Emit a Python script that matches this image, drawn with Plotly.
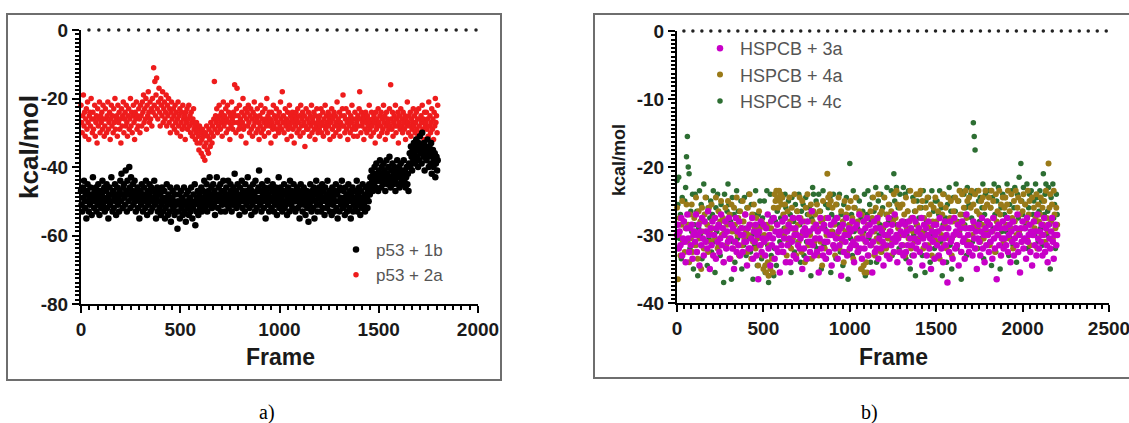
import plotly.graph_objects as go

W, H = 1129, 423

# ---------------- Panel a data (one value every 3 frames) ----------------
step_a = 3
p53_1b = [
-47,-51,-53,-46,-49,-44,-50,-52,-48,-55,-47,-45,-50,-53,-49,-51,-46,-48,-54,-50,
-43,-49,-52,-47,-50,-46,-53,-48,-51,-45,-49,-54,-47,-50,-52,-48,-44,-51,-49,-46,
-53,-50,-47,-45,-52,-49,-55,-48,-46,-51,-50,-43,-48,-53,-47,-52,-49,-45,-50,-54,
-48,-46,-51,-49,-53,-47,-44,-50,-42,-48,-52,-46,-45,-49,-51,-41,-47,-53,-44,-48,
-50,-40,-46,-52,-43,-49,-47,-45,-51,-48,-44,-50,-53,-47,-49,-46,-52,-48,-55,-50,
-47,-51,-45,-49,-53,-48,-46,-50,-52,-44,-49,-54,-47,-51,-48,-45,-50,-53,-46,-49,
-52,-47,-50,-44,-51,-48,-55,-49,-46,-53,-50,-47,-52,-48,-54,-51,-46,-49,-53,-50,
-47,-55,-52,-49,-45,-51,-54,-48,-50,-53,-46,-56,-51,-49,-47,-52,-50,-54,-48,-53,
-51,-46,-58,-50,-53,-48,-55,-51,-47,-52,-49,-54,-50,-46,-53,-51,-56,-48,-50,-52,
-47,-54,-51,-49,-53,-46,-50,-55,-52,-48,-51,-45,-57,-50,-53,-49,-47,-54,-51,-48,
-52,-50,-46,-53,-49,-47,-51,-44,-50,-52,-48,-45,-53,-49,-47,-51,-43,-50,-48,-46,
-52,-49,-45,-51,-47,-54,-48,-50,-43,-49,-52,-46,-50,-48,-45,-53,-47,-51,-49,-44,
-50,-47,-53,-48,-46,-51,-49,-44,-52,-48,-50,-45,-47,-53,-49,-51,-46,-48,-42,-50,
-47,-52,-49,-45,-51,-48,-54,-46,-50,-49,-44,-52,-47,-50,-48,-53,-45,-49,-51,-47,
-43,-50,-48,-52,-46,-49,-54,-47,-51,-45,-50,-48,-53,-44,-49,-52,-47,-50,-46,-41,
-49,-51,-47,-53,-45,-50,-48,-52,-46,-49,-55,-47,-50,-44,-51,-48,-53,-46,-50,-49,
-52,-47,-45,-50,-53,-48,-51,-46,-49,-54,-47,-50,-43,-52,-48,-46,-51,-49,-53,-47,
-50,-45,-52,-48,-51,-47,-54,-49,-46,-50,-53,-44,-48,-51,-47,-52,-49,-45,-50,-48,
-53,-47,-50,-46,-52,-49,-48,-55,-51,-45,-50,-47,-53,-49,-46,-51,-48,-54,-50,-47,
-52,-49,-56,-48,-51,-45,-50,-53,-47,-49,-52,-46,-55,-48,-50,-44,-51,-53,-47,-49,
-46,-51,-48,-53,-50,-45,-52,-47,-49,-54,-46,-50,-48,-52,-44,-51,-49,-47,-53,-50,
-48,-54,-46,-51,-49,-53,-47,-50,-45,-52,-48,-55,-47,-50,-53,-46,-49,-51,-44,-50,
-52,-47,-49,-54,-46,-51,-48,-53,-50,-45,-49,-52,-47,-55,-48,-50,-46,-53,-51,-49,
-47,-52,-50,-44,-53,-48,-51,-46,-49,-54,-47,-50,-52,-45,-49,-51,-48,-53,-46,-50,
-49,-52,-47,-50,-45,-48,-43,-46,-41,-44,-47,-42,-45,-40,-43,-46,-39,-44,-42,-47,
-41,-44,-38,-43,-46,-40,-42,-45,-39,-44,-41,-47,-43,-38,-42,-45,-40,-44,-37,-43,
-46,-41,-43,-39,-45,-42,-40,-44,-47,-41,-43,-38,-45,-42,-40,-46,-43,-39,-44,-41,
-45,-42,-38,-44,-41,-46,-43,-40,-45,-42,-47,-39,-36,-40,-34,-37,-41,-35,-38,-33,
-36,-39,-34,-32,-37,-35,-40,-33,-38,-31,-36,-34,-39,-30,-35,-37,-33,-41,-36,-34,
-38,-35,-32,-37,-40,-34,-36,-39,-33,-42,-37,-35,-40,-38,-36,-43,-39,-37,-41,-38,
]
p53_2a = [
-22,-27,-30,-25,-19,-28,-24,-31,-26,-23,-29,-21,-27,-32,-25,-24,-28,-20,-26,-30,
-24,-29,-26,-22,-31,-27,-25,-33,-23,-28,-26,-21,-30,-25,-27,-24,-29,-22,-26,-31,
-28,-23,-26,-30,-25,-21,-29,-27,-24,-32,-26,-22,-28,-25,-30,-23,-27,-20,-29,-26,
-25,-31,-22,-27,-24,-29,-26,-33,-23,-28,-25,-21,-30,-26,-24,-28,-22,-27,-31,-25,
-23,-29,-26,-20,-28,-24,-30,-25,-22,-27,-32,-24,-26,-21,-29,-25,-28,-23,-26,-30,
-22,-25,-28,-21,-24,-19,-27,-23,-26,-20,-29,-22,-25,-18,-24,-27,-21,-26,-23,-28,
-20,-24,-11,-22,-15,-25,-19,-14,-23,-26,-21,-17,-24,-28,-20,-22,-25,-18,-27,-23,
-21,-26,-24,-19,-28,-22,-25,-20,-27,-23,-30,-24,-21,-26,-28,-23,-25,-29,-22,-27,
-24,-30,-26,-21,-28,-25,-23,-31,-27,-24,-29,-22,-26,-28,-25,-32,-24,-27,-23,-29,
-26,-22,-28,-25,-30,-24,-27,-31,-26,-23,-29,-28,-32,-30,-27,-33,-29,-31,-35,-28,
-33,-30,-36,-32,-29,-37,-31,-34,-38,-30,-33,-28,-35,-31,-36,-29,-32,-34,-27,-30,
-33,-28,-31,-26,-15,-29,-25,-27,-23,-30,-26,-28,-22,-25,-29,-27,-24,-31,-26,-21,
-28,-25,-27,-23,-30,-26,-22,-29,-24,-27,-32,-25,-28,-21,-26,-29,-24,-27,-16,-25,
-30,-23,-17,-27,-25,-29,-22,-28,-26,-31,-24,-27,-20,-29,-25,-28,-23,-33,-26,-24,
-28,-22,-27,-30,-25,-23,-29,-26,-31,-24,-28,-21,-27,-25,-30,-26,-23,-29,-27,-32,
-25,-28,-22,-30,-26,-24,-29,-27,-31,-23,-26,-28,-20,-27,-25,-30,-24,-28,-26,-33,
-24,-27,-29,-22,-28,-25,-31,-26,-23,-29,-27,-25,-30,-24,-28,-21,-26,-29,-18,-27,
-25,-30,-27,-23,-28,-26,-32,-24,-29,-27,-22,-28,-25,-31,-26,-24,-29,-27,-33,-25,
-28,-24,-26,-30,-23,-27,-29,-25,-31,-22,-28,-26,-24,-30,-27,-25,-34,-28,-23,-29,
-26,-29,-24,-27,-31,-25,-28,-22,-30,-26,-27,-24,-29,-32,-25,-28,-23,-27,-30,-26,
-29,-25,-28,-23,-30,-27,-24,-31,-26,-28,-22,-29,-25,-27,-30,-24,-28,-26,-32,-25,
-27,-23,-29,-26,-31,-24,-28,-25,-30,-27,-21,-28,-26,-29,-24,-31,-27,-25,-28,-23,
-19,-28,-25,-30,-26,-23,-29,-27,-32,-24,-28,-26,-30,-25,-27,-22,-29,-26,-31,-28,
-24,-29,-26,-27,-31,-25,-28,-23,-18,-26,-30,-24,-28,-27,-25,-32,-26,-29,-24,-27,
-30,-25,-28,-26,-22,-29,-27,-31,-24,-28,-26,-30,-25,-27,-33,-24,-29,-26,-28,-23,
-27,-31,-25,-28,-24,-30,-26,-29,-22,-27,-25,-32,-28,-24,-30,-26,-27,-29,-23,-28,
-16,-26,-29,-24,-31,-27,-25,-28,-22,-30,-26,-28,-24,-33,-27,-25,-29,-23,-28,-26,
-30,-24,-27,-29,-25,-32,-26,-28,-21,-27,-30,-25,-28,-24,-31,-26,-29,-27,-23,-28,
-25,-30,-27,-24,-29,-26,-31,-23,-28,-26,-30,-25,-27,-22,-29,-26,-32,-24,-28,-27,
-24,-29,-26,-31,-21,-28,-25,-30,-27,-23,-29,-26,-32,-24,-28,-20,-27,-25,-30,-22,
]

# ---------------- Panel b data (one value every 5 frames) ----------------
step_b = 5
hspcb_3a = [
-30,-28.5,-32,-29.5,-31.5,-27.5,-33,-30.5,-28,-31,-34,-29,-27,-30.5,-32.5,-29,-31.5,-28.5,-33.5,-30,
-29.5,-31,-27,-32.5,-30,-28.5,-34.5,-29.5,-31.5,-27.5,-30.5,-33,-28,-31,-29.5,-32,-26.5,-30,-35,-29,
-31.5,-28,-33,-30,-27.5,-33.5,-29,-31,-28.5,-32.5,-30.5,-27,-31.5,-29,-34,-30,-28,-32,-29.5,-31,
-27.5,-33.5,-30.5,-28.5,-32,-29,-35,-31,-27.5,-32.5,-29.5,-31.5,-28,-33,-30,-29,-32.5,-30,-31,-27,
-31,-34.5,-29,-32,-28.5,-32,-30.5,-27.5,-33.5,-29.5,-31,-28.5,-33,-30,-36.5,-29.5,-31.5,-28,-32.5,-30.5,
-28.5,-31,-33,-29,-30.5,-27,-32,-30,-34.5,-28,-31.5,-30.5,-27.5,-33.5,-29.5,-32,-28.5,-32.5,-30,-35.5,
-29.5,-31.5,-28,-32.5,-30.5,-27.5,-34,-29.5,-31.5,-28.5,-30.5,-34,-29,-31,-27.5,-33,-30,-29,-33.5,-30,
-31.5,-27.5,-32,-30.5,-28,-35,-29.5,-32,-29,-30,-33.5,-28,-31,-29.5,-32.5,-31,-26.5,-31.5,-29,-33,
-30.5,-28.5,-32.5,-29.5,-35.5,-30.5,-27.5,-32,-29,-33,-28.5,-31,-33.5,-29.5,-31,-27.5,-32.5,-30,-28.5,-34.5,
-30,-31.5,-28,-32,-30.5,-27.5,-33.5,-29.5,-31.5,-29,-36,-30.5,-28.5,-32.5,-30,-31,-27.5,-33,-30,-29,
-32,-29.5,-31.5,-28,-31,-34,-29,-31.5,-28.5,-32.5,-30.5,-27,-32,-29.5,-33.5,-30.5,-28,-32,-29,-31,
-27.5,-33,-30,-28.5,-31.5,-29.5,-35.5,-31,-28,-32.5,-29,-32,-27.5,-33.5,-30.5,-29,-32,-29.5,-31,-34.5,
-30,-31.5,-28.5,-33,-30,-27.5,-33.5,-29.5,-31.5,-28.5,-30.5,-32.5,-27,-31,-30,-34,-30.5,-28.5,-32.5,-29.5,
-31.5,-28,-33,-30,-28.5,-32.5,-29.5,-31.5,-28,-34,-30.5,-29,-31.5,-27.5,-33,-30.5,-28,-32,-29.5,-31,
-29,-32.5,-30,-27.5,-34.5,-30.5,-28.5,-31.5,-29,-33,-30,-28,-32,-30.5,-35,-29.5,-31,-28.5,-33.5,-30,
-28.5,-31.5,-29.5,-33,-27.5,-30.5,-32,-29,-34,-30.5,-28,-31.5,-30,-37,-29,-32.5,-28,-31,-30.5,-33.5,
-30,-27.5,-32,-29.5,-31.5,-28.5,-34.5,-30,-29,-32.5,-28,-31,-30.5,-33.5,-29,-27,-31.5,-30,-32.5,-29,
-31.5,-29,-33,-28,-30.5,-32,-29.5,-35,-30.5,-28.5,-31,-33,-29.5,-27.5,-32,-30,-34,-29,-31.5,-28,
-30,-32.5,-28.5,-31,-29.5,-33.5,-27.5,-30.5,-32,-29,-36.5,-30,-28.5,-31.5,-29,-33,-30.5,-28,-32,-30.5,
-29,-31.5,-27.5,-32.5,-30,-28.5,-34,-29.5,-31,-28,-33,-30.5,-29,-31.5,-27,-32.5,-30,-35.5,-29,-31,
-28,-32,-30.5,-29,-33.5,-27.5,-31,-30,-28.5,-32.5,-29.5,-34.5,-30,-28,-31.5,-29.5,-33,-27,-30.5,-32,
-29.5,-31,-28.5,-33,-30,-27.5,-32.5,-29,-31.5,-34,-28.5,-30.5,-32,-29.5,-27.5,-31,-33.5,-30,-28.5,-31.5,
-30,
]
hspcb_4a = [
-26,-36.5,-30,-27.5,-33,-28.5,-25,-31,-28,-32.5,-29,-25.5,-31,-28.5,-34,-27,-30.5,-25.5,-32.5,-29.5,
-27.5,-31.5,-24.5,-30,-33.5,-26.5,-30.5,-28,-35,-26,-29.5,-32,-27,-24.5,-31,-28.5,-32.5,-26,-29.5,-31,
-25.5,-29,-33,-27.5,-30.5,-24.5,-29,-32,-26.5,-31.5,-28,-25,-30,-27.5,-34,-29.5,-26,-31.5,-28.5,-25,
-30.5,-27,-33.5,-25.5,-29.5,-32,-26,-28.5,-31,-24.5,-30,-27.5,-33,-26.5,-29,-31.5,-25,-28,-30.5,-27,
-29.5,-32.5,-26,-30,-24,-28.5,-33.5,-27,-31,-25.5,-29,-32,-27.5,-30.5,-34.5,-26.5,-29,-31.5,-28,-33,
-35,-30,-34.5,-35.5,-28.5,-34,-36,-31.5,-35,-29,-33.5,-35.5,-26,-24,-25,-23.5,-24.5,-26,-23.5,-25,
-24,-25.5,-24.5,-27,-30,-25.5,-29,-33,-26.5,-31,-24.5,-28,-32,-26,-30.5,-27.5,-24,-29.5,-33,-26.5,
-28.5,-31,-24.5,-27.5,-32.5,-25,-30,-28,-34,-26,-29.5,-24,-31.5,-27,-30,-25.5,-33.5,-28,-26.5,-31,
-27,-30.5,-25.5,-29,-33,-26.5,-31,-28,-34.5,-25,-28.5,-32,-27.5,-30,-21,-24.5,-25.5,-24,-25,-29.5,
-26,-31.5,-28.5,-33,-25.5,-30,-27.5,-24.5,-32,-29,-26.5,-31,-28,-34,-25,-29.5,-27,-32.5,-26,-30,
-28.5,-25,-31.5,-27.5,-33.5,-26,-29,-24.5,-30.5,-28,-32,-26.5,-29.5,-35,-27,-30,-34.5,-35.5,-31,-34,
-35.5,-28.5,-33,-30,-26.5,-31.5,-27.5,-24.5,-29.5,-33,-26,-30.5,-28,-24,-31,-27,-32.5,-26.5,-29,-31.5,
-24.5,-28.5,-32,-27,-30.5,-25.5,-29.5,-33,-26.5,-31,-28,-24,-30.5,-27.5,-23.5,-25.5,-29,-32.5,-26,-30,
-28,-25.5,-31.5,-27,-33,-24.5,-29,-26.5,-30.5,-28,-23.5,-32,-27.5,-29.5,-25,-31,-26.5,-24,-28.5,-30.5,
-24,-26,-23.5,-29.5,-25,-32,-27.5,-30,-26,-28.5,-24.5,-31.5,-27,-29,-25.5,-33,-28,-26,-30.5,-24.5,
-28,-31,-26.5,-29.5,-33.5,-25.5,-30,-27,-24,-31.5,-28.5,-26,-32,-29,-24.5,-30.5,-27.5,-25,-33,-28,
-26.5,-30,-24.5,-28,-31.5,-25,-29.5,-23.5,-27,-32.5,-24,-28.5,-26,-30.5,-23.5,-27.5,-25,-31,-24.5,-29,
-26,-23.5,-30,-25.5,-28.5,-24,-32,-26.5,-29,-23.5,-27,-31,-25,-28.5,-24.5,-30.5,-26,-23.5,-29.5,-25.5,
-28,-24.5,-31.5,-26,-23.5,-29.5,-25,-27.5,-32.5,-24,-28,-26.5,-30,-23.5,-27,-25.5,-29,-24.5,-31,-26,
-24.5,-28.5,-25.5,-23.5,-30.5,-26.5,-29,-24,-27.5,-32,-25,-28,-23.5,-30,-26,-24.5,-29.5,-27,-25,-31,
-26.5,-24,-29,-25.5,-28,-30.5,-23.5,-27,-25,-31.5,-28.5,-24.5,-30,-26,-29,-27.5,-24,-32,-25.5,-28,
-27,-24.5,-30,-26,-28.5,-25,-31,-23.5,-27.5,-29.5,-19.5,-26,-24,-28,-25.5,-30.5,-23.5,-27,-29,-26,
-28.5,
]
hspcb_4c = [
-22,-25.5,-21.5,-30.5,-27,-33.5,-24.5,-31,-28,-25,-23,-18.5,-15.5,-20,-21,-32,-26.5,-29.5,-24,-35,
-28.5,-24,-31.5,-26.5,-36,-29,-23.5,-30,-25.5,-33.5,-28,-22.5,-32,-29.5,-24.5,-34.5,-26,-30.5,-27.5,-25,
-32.5,-27,-23.5,-31,-35.5,-26,-29.5,-24,-31.5,-28.5,-33,-25.5,-30,-27.5,-37,-24,-29.5,-32,-26.5,-22.5,
-25.5,-33.5,-28,-36.5,-24.5,-31,-27,-34,-29.5,-23.5,-30.5,-26.5,-33,-29,-25,-35,-28,-31.5,-24.5,-29,
-33,-26,-30.5,-24,-28.5,-32.5,-25.5,-30,-36.5,-27,-31.5,-23.5,-29.5,-34.5,-27,-30,-25,-28.5,-33.5,-27.5,
-30.5,-25,-35.5,-28.5,-23.5,-31.5,-37,-29,-24,-33,-27.5,-30.5,-36,-32,-28,-34.5,-26.5,-29.5,-23.5,-31,
-27.5,-32.5,-24.5,-30,-29,-24,-26,-34,-29.5,-25,-31.5,-27,-35.5,-24.5,-30.5,-28,-32.5,-25.5,-30,-26.5,
-31,-24,-28.5,-34,-26.5,-30,-25.5,-33,-28,-24.5,-31,-27,-33.5,-26,-29.5,-36,-27.5,-23,-24,-31.5,
-28.5,-25,-32,-29,-24,-30.5,-26.5,-35,-28,-23.5,-31.5,-29,-25.5,-33.5,-29.5,-26,-30,-24.5,-35.5,-27,
-29.5,-24,-32,-27.5,-33.5,-25.5,-30.5,-28.5,-24,-32.5,-27,-29,-34.5,-25.5,-31,-27.5,-24.5,-30,-36.5,-28.5,
-19.5,-30.5,-27,-33,-23.5,-29.5,-26,-31.5,-24.5,-29,-32.5,-25,-30.5,-27.5,-35,-26.5,-29.5,-24,-36,-31,
-27,-23.5,-30.5,-25.5,-34,-28,-24.5,-31,-26.5,-29.5,-23,-34,-27.5,-25,-30,-28.5,-24,-32.5,-26,-29,
-24.5,-30,-27,-23,-31.5,-28,-25.5,-29.5,-23.5,-33,-27.5,-21,-25,-30.5,-23,-28.5,-26,-32,-24,-30,
-25.5,-31.5,-23,-28,-24,-33.5,-30,-26.5,-23.5,-29,-35,-27.5,-33,-24.5,-30,-26.5,-36,-28.5,-25,-31,
-27.5,-24,-30.5,-26,-33,-23.5,-29.5,-35.5,-25,-28,-31.5,-24.5,-27,-34,-29,-23.5,-30,-26.5,-32,-25,
-29.5,-25,-33,-27,-23.5,-31,-26,-36,-28.5,-24,-30.5,-27.5,-34,-25.5,-29,-23,-31.5,-26.5,-35,-28,
-24.5,-30,-26.5,-22.5,-32,-28,-25,-29.5,-23.5,-36.5,-27,-31,-24,-28.5,-26,-33,-23,-30,-25.5,-29,
-24,-27.5,-31,-13.5,-15.5,-17.5,-29,-23.5,-32,-25,-28,-24.5,-30.5,-26,-22.5,-33.5,-27,-24,-29.5,-25.5,
-28.5,-23.5,-31,-26,-34.5,-24.5,-29,-22.5,-27,-32.5,-25,-30,-23,-28.5,-35,-26,-29.5,-24,-31.5,-27,
-24.5,-29.5,-22.5,-27.5,-33,-25.5,-30.5,-23.5,-28,-31.5,-26,-23,-29,-34,-24,-27.5,-21.5,-30,-19.5,-25,
-27,-23,-30.5,-25.5,-28.5,-22.5,-32,-26,-24,-29.5,-23.5,-34.5,-27,-25,-30,-22.5,-28,-24.5,-31,-26.5,
-23.5,-29,-25,-31.5,-21,-27,-24,-22.5,-30,-26.5,-23,-28.5,-35,-24.5,-30.5,-22.5,-27.5,-25.5,-32,-24,
-27,
]

# ---------------- tick labels ----------------
xa_ticks = [0, 500, 1000, 1500, 2000]
xa_text = ["0", "500", "1000", "1500", "2000"]
ya_ticks = [0, -20, -40, -60, -80]
ya_text = ["0", "-20", "-40", "-60", "-80"]
xb_ticks = [0, 500, 1000, 1500, 2000, 2500]
xb_text = ["0", "500", "1000", "1500", "2000", "2500"]
yb_ticks = [0, -10, -20, -30, -40]
yb_text = ["0", "-10", "-20", "-30", "-40"]

frames_a = [i * step_a for i in range(len(p53_1b))]
frames_b = [i * step_b for i in range(len(hspcb_3a))]

fig = go.Figure()


def add(x, y, name, color, xa, ya, legend, rank, size):
    fig.add_trace(go.Scatter(
        x=x, y=y, mode="markers", name=name,
        marker=dict(color=color, size=size, line=dict(width=0)),
        xaxis=xa, yaxis=ya, legend=legend, legendrank=rank, cliponaxis=False))


# dotted zero reference lines (drawn as dots)
zx_a = list(range(40, 2001, 50))
zx_b = list(range(40, 2501, 52))
fig.add_trace(go.Scatter(x=zx_a, y=[0] * len(zx_a), mode="markers",
                         marker=dict(color="#222", size=3.5), showlegend=False,
                         xaxis="x", yaxis="y", cliponaxis=False, hoverinfo="skip"))
fig.add_trace(go.Scatter(x=zx_b, y=[0] * len(zx_b), mode="markers",
                         marker=dict(color="#222", size=3.5), showlegend=False,
                         xaxis="x2", yaxis="y2", cliponaxis=False, hoverinfo="skip"))

add(frames_a, p53_2a, "p53 + 2a", "#ee1c1c", "x", "y", "legend", 2, 5.5)
add(frames_a, p53_1b, "p53 + 1b", "#000000", "x", "y", "legend", 1, 6.5)
add(frames_b, hspcb_4c, "HSPCB + 4c", "#2d6e32", "x2", "y2", "legend2", 3, 5.5)
add(frames_b, hspcb_4a, "HSPCB + 4a", "#9a7a18", "x2", "y2", "legend2", 2, 6)
add(frames_b, hspcb_3a, "HSPCB + 3a", "#c800c8", "x2", "y2", "legend2", 1, 6.5)

tickfont = dict(family="Liberation Sans", size=19, color="#1a1a1a", weight="bold")


def axis(domain, rng, tv, tt, minor_dtick):
    return dict(domain=domain, range=rng, tickmode="array", tickvals=tv, ticktext=tt,
                showline=True, linecolor="black", linewidth=2, ticks="outside",
                ticklen=7, tickwidth=2, tickcolor="black", showgrid=False, zeroline=False,
                tickfont=tickfont, fixedrange=True, automargin=False, ticklabeloverflow="allow",
                minor=dict(tickmode="linear", tick0=0, dtick=minor_dtick, ticks="outside",
                           ticklen=4, tickwidth=1.5, tickcolor="black", showgrid=False))


fig.update_layout(
    width=W, height=H, margin=dict(l=0, r=0, t=0, b=0, autoexpand=False),
    paper_bgcolor="white", plot_bgcolor="white",
    xaxis=dict(axis([81 / W, 478 / W], [0, 2000], xa_ticks, xa_text, 500 / 12), anchor="y"),
    yaxis=dict(axis([1 - 304 / H, 1 - 30 / H], [-80, 0], ya_ticks, ya_text, 20 / 16), anchor="x"),
    xaxis2=dict(axis([677 / W, 1109 / W], [0, 2500], xb_ticks, xb_text, 500 / 12), anchor="y2"),
    yaxis2=dict(axis([1 - 303 / H, 1 - 31 / H], [-40, 0], yb_ticks, yb_text, 10 / 16), anchor="x2"),
    legend=dict(x=336 / W, y=1 - 232 / H, xanchor="left", yanchor="top", bgcolor="rgba(0,0,0,0)",
                font=dict(family="Liberation Sans", size=17, color="#555"), itemsizing="trace"),
    legend2=dict(x=700 / W, y=1 - 30 / H, xanchor="left", yanchor="top", bgcolor="rgba(0,0,0,0)",
                 font=dict(family="Liberation Sans", size=18, color="#555"), itemsizing="trace"),
    showlegend=True,
)


def note(text, x, y, size, family="Liberation Sans", angle=0, color="#1a1a1a"):
    fig.add_annotation(text=text, x=x / W, y=1 - y / H, xref="paper", yref="paper",
                       xanchor="center", yanchor="middle", showarrow=False, textangle=angle,
                       font=dict(family=family, size=size, color=color))


# axis titles
note("<b>Frame</b>", 280, 357, 23)
note("<b>Frame</b>", 893, 357, 23)
note("<b>kcal/mol</b>", 29, 147, 26, angle=-90)
note("<b>kcal/mol</b>", 619, 160, 18, angle=-90)
# captions
note("a)", 267, 412, 20, family="Liberation Serif", color="black")
note("b)", 869, 412, 20, family="Liberation Serif", color="black")

# panel frames
fig.add_shape(type="rect", xref="paper", yref="paper", x0=7 / W, x1=501 / W,
              y0=1 - 380 / H, y1=1 - 14 / H, line=dict(color="#6e6e6e", width=2), layer="below")
fig.add_shape(type="rect", xref="paper", yref="paper", x0=594 / W, x1=1140 / W,
              y0=1 - 378 / H, y1=1 - 14 / H, line=dict(color="#6e6e6e", width=2), layer="below")

# remove the default page margin so the 1129x423 figure fills the window exactly
fig.write_html("out.html",
               config={"displayModeBar": False},
               post_script="document.body.style.margin='0px';document.body.style.overflow='hidden';")
